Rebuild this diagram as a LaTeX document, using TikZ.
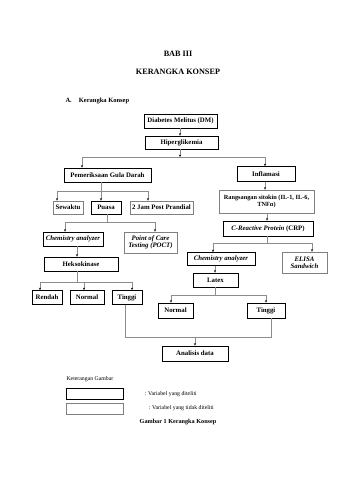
\documentclass[tikz,border=0pt]{standalone}
\usepackage{fontspec}
\setmainfont{Liberation Serif}
\usetikzlibrary{arrows.meta}
\newcommand{\bxf}{\fontsize{6.8}{7.4}\selectfont\bfseries}
\begin{document}
\begin{tikzpicture}[x=1pt,y=-1pt,
  dbox/.style={draw=black, line width=0.9pt, inner sep=0.3pt, font=\bxf, align=center},
  gbox/.style={draw=black!50, line width=0.9pt, inner sep=0.3pt, font=\bxf, align=center},
  ln/.style={draw=black!45, line width=0.5pt},
  ar/.style={ln, -{Stealth[length=2.4pt,width=2.2pt,color=black]}},
  sz/.style 2 args={minimum width=#1pt, minimum height=#2pt}]
\useasboundingbox[fill=white] (0,0) rectangle (339,480);
% titles
\node[font=\fontsize{8.2}{9}\selectfont\bfseries] (t1) at (178,54) {BAB III};
\node[font=\fontsize{8.2}{9}\selectfont\bfseries] (t2) at (178,72) {KERANGKA KONSEP};
\node[font=\fontsize{6.5}{7}\selectfont\bfseries, anchor=west] (t3) at (62,101) {A.\hspace{7pt}Kerangka Konsep};
% boxes
\node[dbox, sz={73}{14}] (dm) at (180.5,121) {Diabetes Melitus (DM)};
\node[dbox, sz={73}{13}] (hip) at (181.5,142.5) {Hiperglikemia};
\node[dbox, sz={87}{14}] (pgd) at (107.5,175) {Pemeriksaan Gula Darah};
\node[dbox, sz={58}{15}] (infl) at (266,174) {Inflamasi};
\node[gbox, sz={30}{13}] (sew) at (68,207.5) {Sewaktu};
\node[dbox, sz={30}{13}] (pua) at (106,207.5) {Puasa};
\node[gbox, sz={63}{13}] (jam) at (161.5,207.5) {2 Jam Post Prandial};
\node[dbox, sz={60}{14}] (chemL) at (73,239) {\itshape Chemistry analyzer};
\node[gbox, sz={53}{21}] (poct) at (150.5,242.5) {\itshape Point of Care\\\itshape Testing (POCT)};
\node[dbox, sz={74}{14}] (heks) at (81,264) {Heksokinase};
\node[dbox, sz={30}{14}] (rendah) at (47,297.5) {Rendah};
\node[dbox, sz={34}{14}] (normL) at (87,297.5) {Normal};
\node[dbox, sz={30}{14}] (tingL) at (127,297.5) {Tinggi};
\node[gbox, sz={95}{23}, font=\fontsize{6.3}{7.2}\selectfont\bfseries] (rang) at (266.5,201.5) {Rangsangan sitokin (IL-1, IL-6,\\TNFα)};
\node[dbox, sz={90}{15}] (crp) at (268,228.5) {\itshape C-Reactive Protein \upshape(CRP)};
\node[dbox, sz={68}{13}] (chemR) at (221,259) {\itshape Chemistry analyzer};
\node[gbox, sz={45}{21}] (elisa) at (304.5,262.5) {\itshape ELISA\\\itshape Sandwich};
\node[dbox, sz={45}{14}] (latex) at (215.5,280) {Latex};
\node[dbox, sz={35}{15}] (normR) at (175.5,310.5) {Normal};
\node[dbox, sz={38}{15}] (tingR) at (266,310.5) {Tinggi};
\node[dbox, sz={66}{15}] (anal) at (195,353.5) {Analisis data};
% junction coordinates
\coordinate (j0) at (180,157);
\coordinate (tl) at (82,157);
\coordinate (tr) at (265,157);
\coordinate (b1) at (101,191);
\coordinate (b1l) at (57,191);
\coordinate (b1r) at (148,191);
\coordinate (b2) at (107,222);
\coordinate (b2l) at (65,222);
\coordinate (b2r) at (155,222);
\coordinate (b3) at (77,282);
\coordinate (b3l) at (40,282);
\coordinate (b3m) at (84,282);
\coordinate (b3r) at (132,282);
\coordinate (b4) at (267,243);
\coordinate (b4l) at (213,243);
\coordinate (b4r) at (312,243);
\coordinate (b5) at (215,295);
\coordinate (b5l) at (171,295);
\coordinate (b5r) at (266,295);
\coordinate (c1) at (125,337);
\coordinate (c2) at (271,337);
\coordinate (cm) at (195,337);
% connectors
\draw[ar] (dm.south -| j0) -- (hip.north -| j0);
\draw[ar] (hip.south -| j0) -- (j0);
\draw[ln] (tl) -- (tr);
\draw[ar] (tl) -- (pgd.north -| tl);
\draw[ar] (tr) -- (infl.north -| tr);
\draw[ln] (pgd.south -| b1) -- (b1);
\draw[ln] (b1l) -- (b1r);
\draw[ar] (b1l) -- (sew.north -| b1l);
\draw[ar] (b1) -- (pua.north -| b1);
\draw[ar] (b1r) -- (jam.north -| b1r);
\draw[ln] (pua.south -| b2) -- (b2);
\draw[ln] (b2l) -- (b2r);
\draw[ar] (b2l) -- (chemL.north -| b2l);
\draw[ar] (b2r) -- (poct.north -| b2r);
\draw[ar] (chemL.south -| b3) -- (heks.north -| b3);
\draw[ln] (heks.south -| b3) -- (b3);
\draw[ln] (b3l) -- (b3r);
\draw[ar] (b3l) -- (rendah.north -| b3l);
\draw[ar] (b3m) -- (normL.north -| b3m);
\draw[ar] (b3r) -- (tingL.north -| b3r);
\draw[ar] (infl.south -| tr) -- (rang.north -| tr);
\draw[ar] (rang.south -| b4) -- (crp.north -| b4);
\draw[ln] (crp.south -| b4) -- (b4);
\draw[ln] (b4l) -- (b4r);
\draw[ar] (b4l) -- (chemR.north -| b4l);
\draw[ar] (b4r) -- (elisa.north -| b4r);
\draw[ar] (chemR.south -| b5) -- (latex.north -| b5);
\draw[ln] (latex.south -| b5) -- (b5);
\draw[ln] (b5l) -- (b5r);
\draw[ar] (b5l) -- (normR.north -| b5l);
\draw[ar] (b5r) -- (tingR.north -| b5r);
\draw[ln] (tingL.south -| c1) -- (c1) -- (c2) -- (tingR.south -| c2);
\draw[ar] (cm) -- (anal.north);
% legend
\node[font=\fontsize{5.8}{6.5}\selectfont, anchor=west] (kg) at (63,379) {Keterangan Gambar};
\node[dbox, sz={57}{11}] (leg1) at (94.5,393.5) {};
\node[gbox, sz={57}{11}] (leg2) at (94.5,409) {};
\node[font=\fontsize{5.8}{6.5}\selectfont, anchor=west] (lt1) at (141,394) {: Variabel yang diteliti};
\node[font=\fontsize{5.8}{6.5}\selectfont, anchor=west] (lt2) at (145,408) {: Variabel yang tidak diteliti};
\node[font=\fontsize{6.2}{7}\selectfont\bfseries] (cap) at (178,422) {Gambar 1 Kerangka Konsep};
\end{tikzpicture}
\end{document}
